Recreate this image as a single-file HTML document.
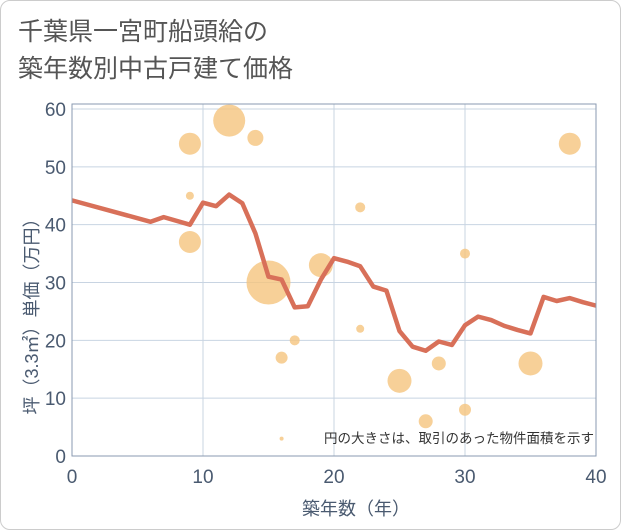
<!DOCTYPE html>
<html><head><meta charset="utf-8"><style>
body{margin:0;background:#fff;font-family:"Liberation Sans","Noto Sans CJK JP",sans-serif}
#wrap{position:relative;width:619px;height:528px;border:1px solid #ccc;border-radius:10px;background:#fff}
</style></head><body>
<div id="wrap">
<svg id="c" width="621" height="530" style="position:absolute;left:-1px;top:-1px">
<text x="18" y="40" font-size="25" fill="#555">千葉県一宮町船頭給の</text>
<text x="18" y="77" font-size="25" fill="#555">築年数別中古戸建て価格</text>
<g id="grid"></g><g id="marks"></g><g id="axes"></g>
</svg>
</div>
<script>
const xTicks=[0,10,20,30,40];
const yTicks=[0,10,20,30,40,50,60];
const bubbleX=[9,12,14,9,9,15,19,22,22,17,16,25,27,28,30,30,35,38,16];
const bubbleY=[54,58,55,45,37,30,33,43,22,20,17,13,6,16,35,8,16,54,3];
const bubbleR=[11,16,8,4,11,22,12,5,4,5,6,12,7,7,5,6,12,11,2];
const lineX=[0,6,7,9,10,11,12,13,14,15,16,17,18,19,20,21,22,23,24,25,26,27,28,29,30,31,32,33,34,35,36,37,38,39,40];
const lineY=[44.2,40.5,41.3,40,43.8,43.2,45.2,43.7,38.5,31,30.5,25.7,25.9,30.5,34.2,33.6,32.8,29.3,28.6,21.6,18.9,18.2,19.8,19.2,22.6,24.1,23.5,22.5,21.8,21.2,27.5,26.8,27.3,26.6,26];
const L=72,R=596,T=104,B=456;
const sx=v=>L+(v-0)/40*(R-L);
const sy=v=>B-(v/60)*(456-109);
const NS="http://www.w3.org/2000/svg";
function mk(p,t,a){const e=document.createElementNS(NS,t);for(const k in a)e.setAttribute(k,a[k]);p.appendChild(e);return e;}
const g=document.getElementById('grid'),m=document.getElementById('marks'),ax=document.getElementById('axes');
mk(g,'rect',{x:L,y:T,width:R-L,height:B-T,fill:'#fff'});
xTicks.forEach(v=>{const l=mk(g,'line',{x1:sx(v),x2:sx(v),y1:T,y2:B,stroke:'#c8d4e2'});
const t=mk(ax,'text',{x:sx(v),y:483,'font-size':19,fill:'#4a5a70','text-anchor':'middle'});t.textContent=v;});
yTicks.forEach(v=>{const l=mk(g,'line',{x1:L,x2:R,y1:sy(v),y2:sy(v),stroke:'#c8d4e2'});
const t=mk(ax,'text',{x:66,y:sy(v)+7,'font-size':19,fill:'#4a5a70','text-anchor':'end'});t.textContent=v;});
bubbleX.forEach((x,i)=>{const c=mk(m,'circle',{cx:sx(x),cy:sy(bubbleY[i]),r:bubbleR[i],fill:'#f5c47e','fill-opacity':0.8});});
const pl=mk(m,'polyline',{points:lineX.map((x,i)=>sx(x)+','+sy(lineY[i])).join(' '),fill:'none',stroke:'#d87059','stroke-width':4.5,'stroke-linejoin':'round'});

const fr=mk(ax,'rect',{x:L,y:T,width:R-L,height:B-T,fill:'none',stroke:'#8a9ab0'});
const xt=mk(ax,'text',{x:356,y:515,'font-size':18,fill:'#4a5a70','text-anchor':'middle'});xt.textContent='築年数（年）';
const yt=mk(ax,'text',{x:0,y:0,'font-size':18,fill:'#4a5a70','text-anchor':'middle',transform:'translate(38,312) rotate(-90)'});yt.textContent='坪（3.3㎡）単価（万円）';
const nt=mk(ax,'text',{x:594,y:443,'font-size':13.5,fill:'#333','text-anchor':'end'});nt.textContent='円の大きさは、取引のあった物件面積を示す';
</script>
</body></html>
